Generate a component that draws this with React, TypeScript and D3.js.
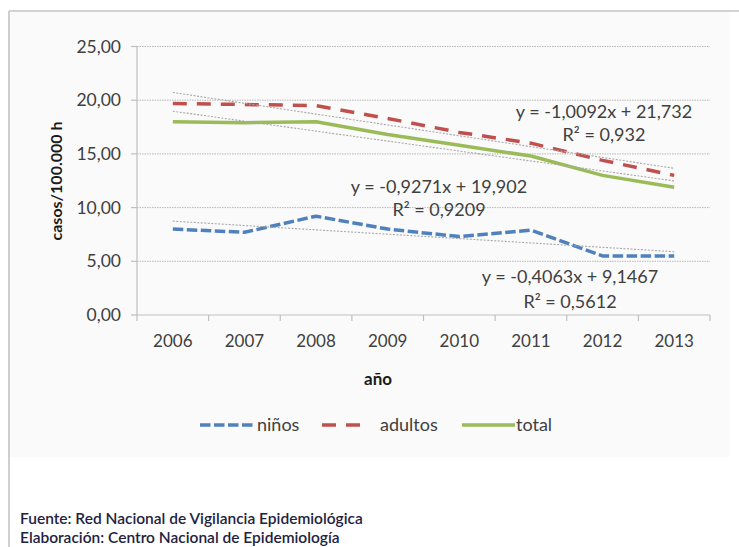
import React from "react";
import * as d3 from "d3";

const years = ["2006", "2007", "2008", "2009", "2010", "2011", "2012", "2013"];
const ninos = [8.0, 7.7, 9.2, 8.0, 7.3, 7.9, 5.5, 5.5];
const adultos = [19.7, 19.6, 19.5, 18.3, 17.0, 16.0, 14.4, 13.0];
const total = [18.0, 17.9, 18.0, 16.8, 15.8, 14.8, 13.0, 11.9];
const seriesNames = ["niños", "adultos", "total"];
const trendSlopes = [-0.4063, -1.0092, -0.9271];
const trendIntercepts = [9.1467, 21.732, 19.902];
const trendEq = ["y = -0,4063x + 9,1467", "y = -1,0092x + 21,732", "y = -0,9271x + 19,902"];
const trendR2 = ["R² = 0,5612", "R² = 0,932", "R² = 0,9209"];
const yTicks = [0, 5, 10, 15, 20, 25];

const W = 739;
const H = 547;
const FONT = "Lato, 'Open Sans', sans-serif";
const colors = ["#4f81bd", "#c0504d", "#9bbb59"];
const dashes = ["10.5,3.5", "14,10", "none"];
// label positions (pixel layout) for each trend annotation
const eqPos = [
  { x: 570, y1: 283, y2: 308 },
  { x: 604, y1: 118, y2: 141 },
  { x: 439, y1: 193, y2: 216 },
];
const legendPos = [
  { x1: 200, x2: 253, tx: 257 },
  { x1: 322, x2: 363, tx: 380 },
  { x1: 462, x2: 515, tx: 516 },
];

export default function App() {
  const data = [ninos, adultos, total];
  const x = d3.scaleBand<string>().domain(years).range([137, 710]).padding(0);
  const y = d3.scaleLinear().domain([0, 25]).range([315, 46.5]);
  const cx = (yr: string) => (x(yr) as number) + x.bandwidth() / 2;
  const loc = d3.formatLocale({ decimal: ",", thousands: ".", grouping: [3], currency: ["", "€"] });
  const fmt = loc.format(".2f");
  const line = d3
    .line<number>()
    .x((_, i) => cx(years[i]))
    .y((d) => y(d));
  const boundaries = [...years.map((yr) => x(yr) as number), 710];

  return (
    <svg
      width={W}
      height={H}
      style={{ position: "absolute", left: 0, top: 0, display: "block" }}
      fontFamily={FONT}
    >
      <rect x={0} y={0} width={W} height={H} fill="#ffffff" />
      <rect x={9} y={11} width={721} height={446} fill="#fafafa" />
      <line x1={9} y1={11} x2={W} y2={11} stroke="#c4c4c4" strokeWidth={1.6} />
      <line x1={9} y1={11} x2={9} y2={H} stroke="#c4c4c4" strokeWidth={1.6} />

      {/* gridlines */}
      {yTicks.slice(1).map((t) => (
        <line
          key={"g" + t}
          x1={137}
          x2={710}
          y1={y(t)}
          y2={y(t)}
          stroke="#b8b8b8"
          strokeWidth={1}
          strokeDasharray="1.5,1"
        />
      ))}
      {/* y axis */}
      <line x1={137} x2={137} y1={y(25)} y2={y(0)} stroke="#bfbfbf" strokeWidth={1.2} />
      {yTicks.map((t) => (
        <g key={"yt" + t}>
          <line x1={131} x2={137} y1={y(t)} y2={y(t)} stroke="#bfbfbf" strokeWidth={1.2} />
          <text x={121} y={y(t)} dy="0.35em" textAnchor="end" fontSize={17.5} fill="#404040">
            {fmt(t)}
          </text>
        </g>
      ))}
      {/* x axis */}
      <line x1={137} x2={710} y1={y(0)} y2={y(0)} stroke="#bfbfbf" strokeWidth={1.2} />
      {boundaries.map((b, i) => (
        <line key={"xt" + i} x1={b} x2={b} y1={y(0)} y2={y(0) + 6} stroke="#bfbfbf" strokeWidth={1.2} />
      ))}
      {years.map((yr) => (
        <text key={yr} x={cx(yr)} y={347} textAnchor="middle" fontSize={17} fill="#404040">
          {yr}
        </text>
      ))}
      <text x={378} y={385} textAnchor="middle" fontSize={17} fontWeight="bold" fill="#1a1a1a">
        año
      </text>
      <text
        transform="translate(56,181) rotate(-90)"
        textAnchor="middle"
        dy="0.35em"
        fontSize={16}
        fontWeight="bold"
        fill="#1a1a1a"
      >
        casos/100.000 h
      </text>

      {/* series */}
      {data.map((d, k) => (
        <path
          key={"s" + k}
          d={line(d) as string}
          fill="none"
          stroke={colors[k]}
          strokeWidth={3.5}
          strokeDasharray={dashes[k]}
          strokeLinejoin="round"
        />
      ))}
      {/* trend lines */}
      {trendSlopes.map((s, k) => {
        const pts = years.map((_, i) => s * (i + 1) + trendIntercepts[k]);
        return (
          <path
            key={"t" + k}
            d={line(pts) as string}
            fill="none"
            stroke="#a8a8a8"
            strokeWidth={1.1}
            strokeDasharray="2,1.5"
          />
        );
      })}
      {/* trend annotations */}
      {trendEq.map((eq, k) => (
        <g key={"e" + k} fontSize={18} fill="#404040" textAnchor="middle">
          <text x={eqPos[k].x} y={eqPos[k].y1}>
            {eq}
          </text>
          <text x={eqPos[k].x} y={eqPos[k].y2}>
            {trendR2[k]}
          </text>
        </g>
      ))}

      {/* legend */}
      {seriesNames.map((n, k) => (
        <g key={"l" + k}>
          <line
            x1={legendPos[k].x1}
            x2={legendPos[k].x2}
            y1={425}
            y2={425}
            stroke={colors[k]}
            strokeWidth={3.5}
            strokeDasharray={dashes[k]}
          />
          <text x={legendPos[k].tx} y={431} fontSize={18} fill="#404040">
            {n}
          </text>
        </g>
      ))}

      {/* footer */}
      <text x={20} y={524} fontSize={15.5} fontWeight={600} fill="#22223f">
        Fuente: Red Nacional de Vigilancia Epidemiológica
      </text>
      <text x={20} y={543} fontSize={15.5} fontWeight={600} fill="#22223f">
        Elaboración: Centro Nacional de Epidemiología
      </text>
    </svg>
  );
}
